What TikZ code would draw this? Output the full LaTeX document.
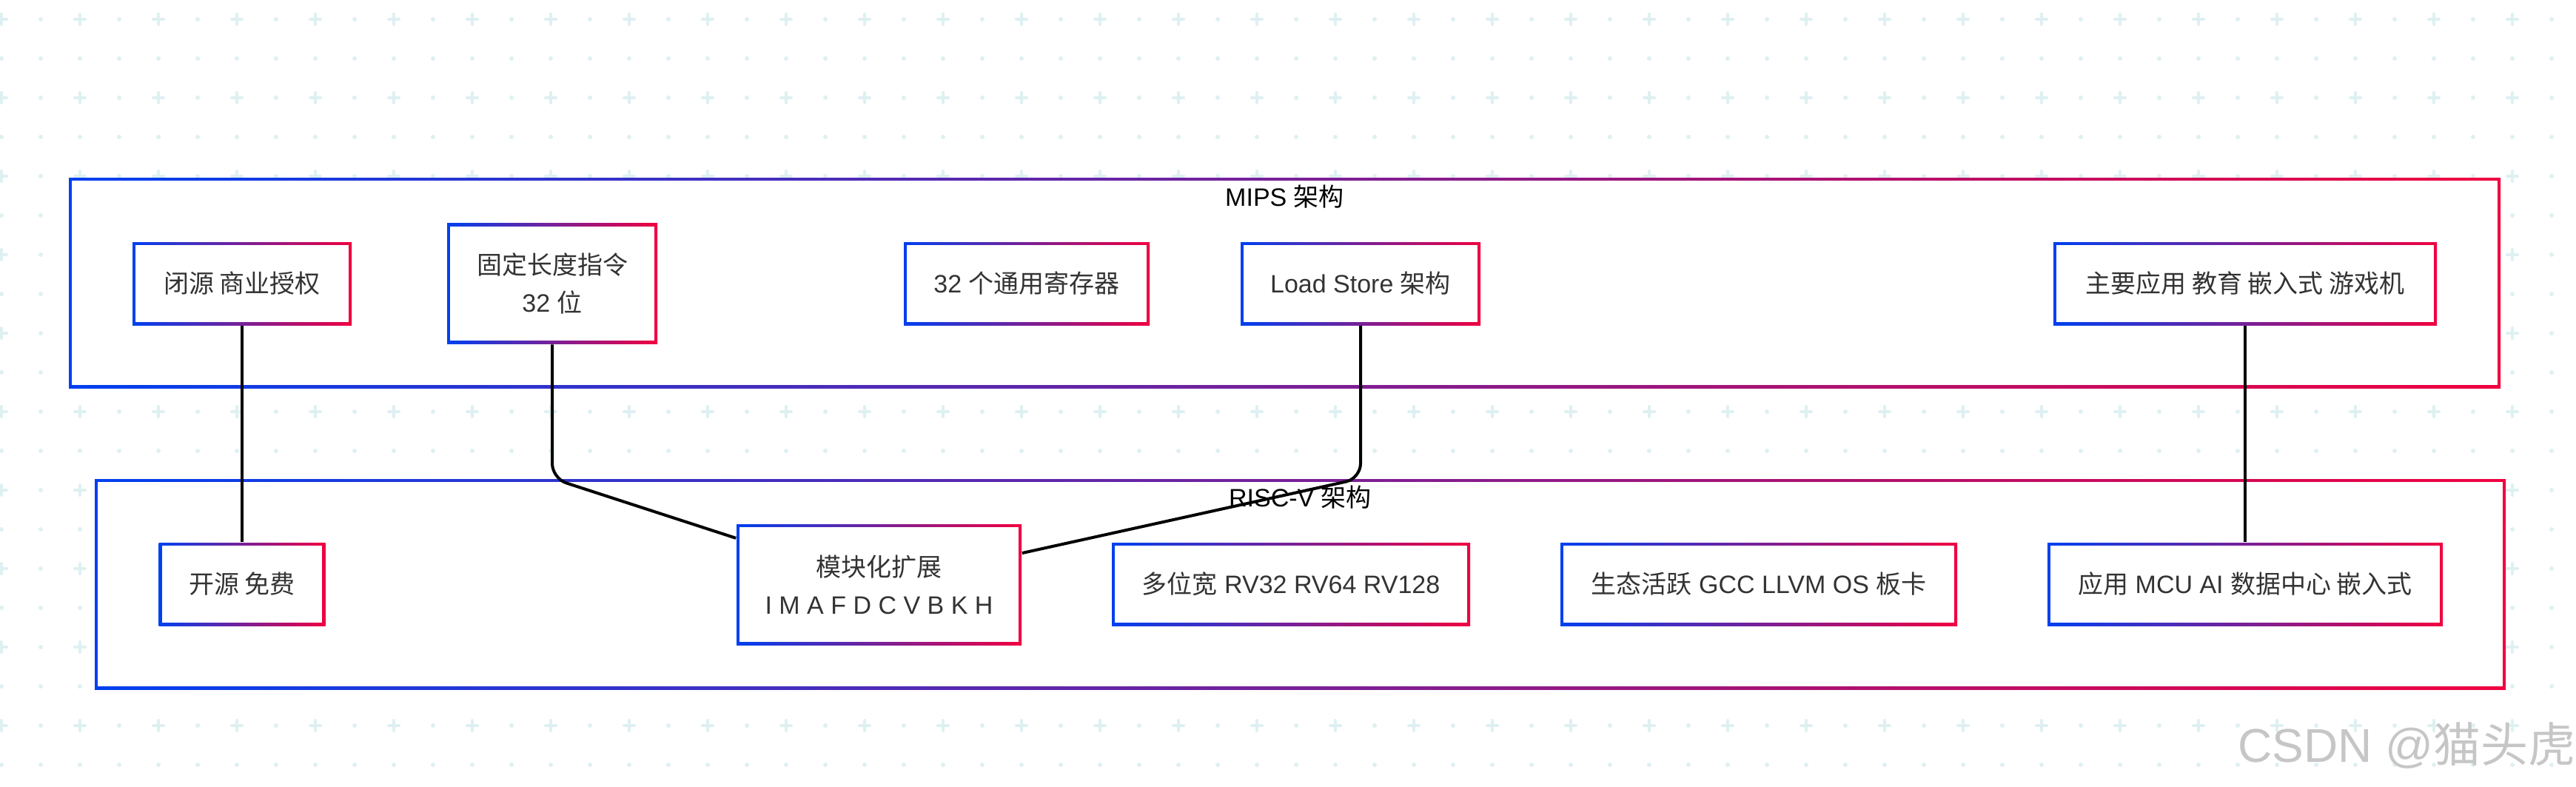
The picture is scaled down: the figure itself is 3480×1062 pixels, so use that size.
\documentclass[tikz,border=0pt]{standalone}
\usepackage{fontspec}
\setmainfont{Liberation Sans}
\newfontfamily\cjk{Noto Sans CJK SC}
\definecolor{gblue}{RGB}{0,64,240}
\definecolor{gred}{RGB}{240,0,64}
\definecolor{gridc}{RGB}{222,240,242}
\definecolor{txt}{RGB}{51,51,51}
\tikzset{
  gbox/.style={left color=gblue, right color=gred, draw=none, text=txt, align=center, inner sep=0pt,
    minimum height=28pt, font=\fontsize{8.5pt}{12.75pt}\selectfont,
    path picture={\fill[white] ([shift={(1.1pt,1.1pt)}]path picture bounding box.south west) rectangle ([shift={(-1.1pt,-1.1pt)}]path picture bounding box.north east);}},
  archbox/.style={gbox, minimum height=71pt},
  archtitle/.style={text=black, inner sep=0pt, font=\fontsize{8.5pt}{12.75pt}\selectfont},
  gridx/.style={draw=gridc, line width=1pt, line cap=round},
  link/.style={draw=black, line width=1pt, rounded corners=5pt},
}
\begin{document}
\begin{tikzpicture}[x=0.25pt,y=0.25pt,yscale=-1,xscale=1]
\useasboundingbox (0,0) rectangle (3480,1062);

% background grid
\foreach \i in {0,...,19}{
  \foreach \j in {0,...,65}{
    \pgfmathtruncatemacro\k{mod(\i,2)+mod(\j,2)}
    \ifnum\k=0
      \draw[gridx] (2+53*\j,26+53*\i) +(-7,0) -- +(7,0) +(0,-7) -- +(0,7);
    \else
      \fill[gridc] (2+53*\j,26+53*\i) circle (0.75pt);
    \fi
  }
}

%Shape: outer boxes
\node[archbox, minimum width=821.25pt] (mips) at (1735.5,382) {};
\node[archbox, minimum width=814.25pt] (riscv) at (1756.5,789) {};

% Text Node
\node[archtitle] (mipst) at (1735.5,266) {MIPS {\cjk 架构}};
% Text Node
\node[archtitle] (riscvt) at (1756.5,672) {RISC-V {\cjk 架构}};

%Shape: MIPS boxes
\node[gbox, minimum width=74pt] (closed) at (327,383) {{\cjk 闭源 商业授权}};
\node[gbox, minimum width=71pt, minimum height=40.75pt] (fixed) at (746,383) {{\cjk 固定长度指令}\\32 {\cjk 位}};
\node[gbox, minimum width=83pt] (regs) at (1387,383) {32 {\cjk 个通用寄存器}};
\node[gbox, minimum width=81pt] (ldst) at (1838,383) {Load Store {\cjk 架构}};
\node[gbox, minimum width=129.5pt] (apps) at (3033,383) {{\cjk 主要应用 教育 嵌入式 游戏机}};

%Shape: RISC-V boxes
\node[gbox, minimum width=56.25pt] (open) at (327,789) {{\cjk 开源 免费}};
\node[gbox, minimum width=96.25pt, minimum height=40.75pt] (mod) at (1187.5,789.5) {{\cjk 模块化扩展}\\I M A F D C V B K H};
\node[gbox, minimum width=121pt] (width) at (1744,789) {{\cjk 多位宽} RV32 RV64 RV128};
\node[gbox, minimum width=134pt] (eco) at (2376,789) {{\cjk 生态活跃} GCC LLVM OS {\cjk 板卡}};
\node[gbox, minimum width=133.5pt] (use) at (3033,789) {{\cjk 应用} MCU AI {\cjk 数据中心 嵌入式}};

%Straight Lines
\coordinate (bendA) at (fixed.south |- riscv.north);
\coordinate (bendB) at (ldst.south |- riscv.north);
\draw[link] (closed.south) -- (open.north);
\draw[link] (fixed.south) -- (bendA) -- (mod);
\draw[link] (ldst.south) -- (bendB) -- (mod);
\draw[link] (apps.south) -- (use.north);

% Text Node
\node[anchor=east, inner sep=0pt, text=gray!45, font=\fontsize{16pt}{16pt}\selectfont] (mark) at (3480,1007) {CSDN @{\cjk 猫头虎}};

\end{tikzpicture}
\end{document}
